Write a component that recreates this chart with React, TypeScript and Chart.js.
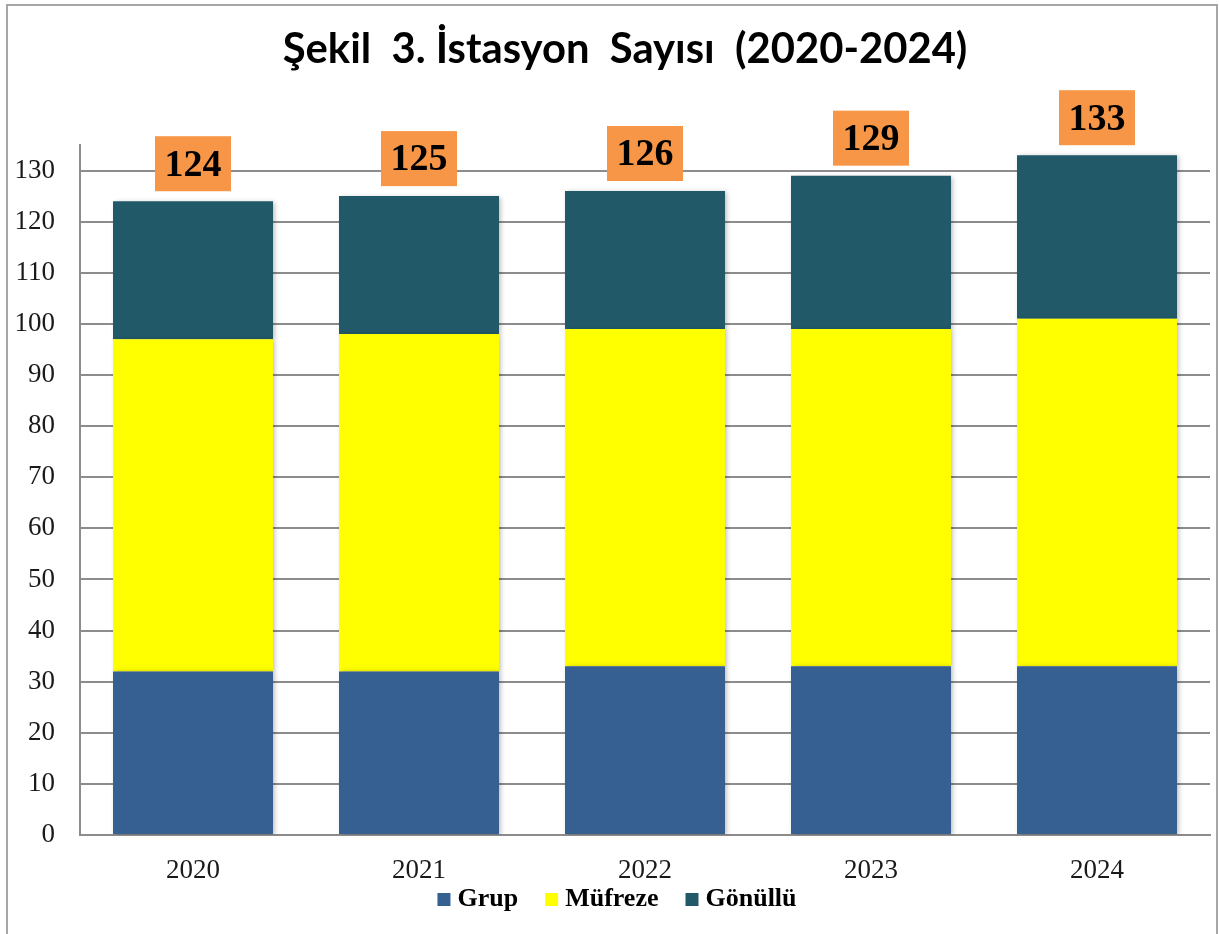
import React, { useEffect, useRef } from "react";
import { Chart, registerables } from "chart.js";

Chart.register(...registerables);

const years = ["2020", "2021", "2022", "2023", "2024"];
const grup = [32, 32, 33, 33, 33];
const mufreze = [65, 66, 66, 66, 68];
const gonullu = [27, 27, 27, 30, 32];
const seriesNames = ["Grup", "Müfreze", "Gönüllü"];
const seriesColors = ["#366092", "#FFFF00", "#215968"];
const yTickValues = [0, 10, 20, 30, 40, 50, 60, 70, 80, 90, 100, 110, 120, 130];
const titleText = "Şekil  3. İstasyon  Sayısı  (2020-2024)";

const SERIF = "'Liberation Serif', 'Times New Roman', serif";

const framePlugin = {
  id: "frame",
  beforeDraw(chart: any) {
    const ctx = chart.ctx;
    ctx.save();
    ctx.fillStyle = "#ffffff";
    ctx.fillRect(0, 0, chart.width, chart.height);
    ctx.strokeStyle = "#A6A6A6";
    ctx.lineWidth = 2;
    ctx.strokeRect(7, 5, 1210, 950);
    ctx.restore();
  },
};

const shadowPlugin = {
  id: "barShadow",
  beforeDatasetDraw(chart: any) {
    const ctx = chart.ctx;
    ctx.save();
    ctx.shadowColor = "rgba(0,0,0,0.28)";
    ctx.shadowBlur = 5;
    ctx.shadowOffsetX = 2;
    ctx.shadowOffsetY = 1;
  },
  afterDatasetDraw(chart: any) {
    chart.ctx.restore();
  },
};

const decorPlugin = {
  id: "decor",
  afterDraw(chart: any) {
    const ctx = chart.ctx;
    ctx.save();
    // title
    let size = 40;
    ctx.font = `bold ${size}px Lato, 'Open Sans', sans-serif`;
    const w = ctx.measureText(titleText).width;
    size = Math.min(48, (size * 685) / w);
    ctx.font = `bold ${size}px Lato, 'Open Sans', sans-serif`;
    ctx.fillStyle = "#000000";
    ctx.textAlign = "center";
    ctx.textBaseline = "alphabetic";
    ctx.fillText(titleText, 625, 63);

    // total labels
    const lastMeta = chart.getDatasetMeta(chart.data.datasets.length - 1);
    lastMeta.data.forEach((bar: any, i: number) => {
      const total = chart.data.datasets.reduce(
        (s: number, d: any) => s + (d.data[i] as number),
        0
      );
      const bw = 76;
      const bh = 55;
      const bx = bar.x - bw / 2;
      const by = bar.y - 10 - bh;
      ctx.fillStyle = "#F79646";
      ctx.fillRect(bx, by, bw, bh);
      ctx.fillStyle = "#000000";
      ctx.font = `bold 38px ${SERIF}`;
      ctx.textAlign = "center";
      ctx.textBaseline = "middle";
      ctx.fillText(String(total), bar.x, by + bh / 2 + 2);
    });

    // legend
    ctx.font = `bold 26px ${SERIF}`;
    const box = 13;
    const gapText = 7;
    const gapItem = 27;
    const items = chart.data.datasets.map((d: any) => ({
      label: d.label,
      color: d.backgroundColor,
      w: ctx.measureText(d.label).width,
    }));
    const totalW =
      items.reduce((s: number, it: any) => s + box + gapText + it.w, 0) +
      gapItem * (items.length - 1);
    let x = 617 - totalW / 2;
    const baseline = 906;
    items.forEach((it: any) => {
      ctx.fillStyle = it.color;
      ctx.fillRect(x, baseline - 13, box, box);
      x += box + gapText;
      ctx.fillStyle = "#000000";
      ctx.textAlign = "left";
      ctx.textBaseline = "alphabetic";
      ctx.fillText(it.label, x, baseline);
      x += it.w + gapItem;
    });
    ctx.restore();
  },
};

export default function App() {
  const ref = useRef<HTMLCanvasElement | null>(null);
  useEffect(() => {
    if (!ref.current) return;
    const datasets = [grup, mufreze, gonullu].map((vals, i) => ({
      label: seriesNames[i],
      data: vals,
      backgroundColor: seriesColors[i],
      borderWidth: 0,
      barPercentage: 0.708,
      categoryPercentage: 1,
    }));
    const chart = new Chart(ref.current, {
      type: "bar",
      data: { labels: years, datasets },
      plugins: [framePlugin, shadowPlugin, decorPlugin],
      options: {
        animation: false,
        responsive: true,
        maintainAspectRatio: false,
        layout: { padding: { left: 0, right: 9, top: 145, bottom: 0 } },
        plugins: {
          legend: { display: false },
          title: { display: false },
          tooltip: { enabled: false },
        },
        scales: {
          x: {
            stacked: true,
            grid: { display: false, drawTicks: false },
            border: { display: true, color: "#8C8C8C", width: 2 },
            ticks: {
              color: "#1a1a1a",
              font: { family: SERIF, size: 27 },
              padding: 20,
            },
            afterFit: (s: any) => {
              s.height = 99;
            },
          },
          y: {
            stacked: true,
            min: 0,
            max: 135,
            grid: { color: "#8C8C8C", lineWidth: 2, drawTicks: false },
            border: { display: true, color: "#8C8C8C", width: 2 },
            ticks: {
              stepSize: 10,
              color: "#1a1a1a",
              font: { family: SERIF, size: 27 },
              padding: 25,
            },
            afterBuildTicks: (s: any) => {
              s.ticks = yTickValues.map((v) => ({ value: v }));
            },
            afterFit: (s: any) => {
              s.width = 80;
            },
          },
        },
      },
    });
    return () => chart.destroy();
  }, []);
  return (
    <div
      style={{
        position: "fixed",
        left: 0,
        top: 0,
        width: 1219,
        height: 934,
        background: "#fff",
      }}
    >
      <canvas ref={ref} />
    </div>
  );
}
